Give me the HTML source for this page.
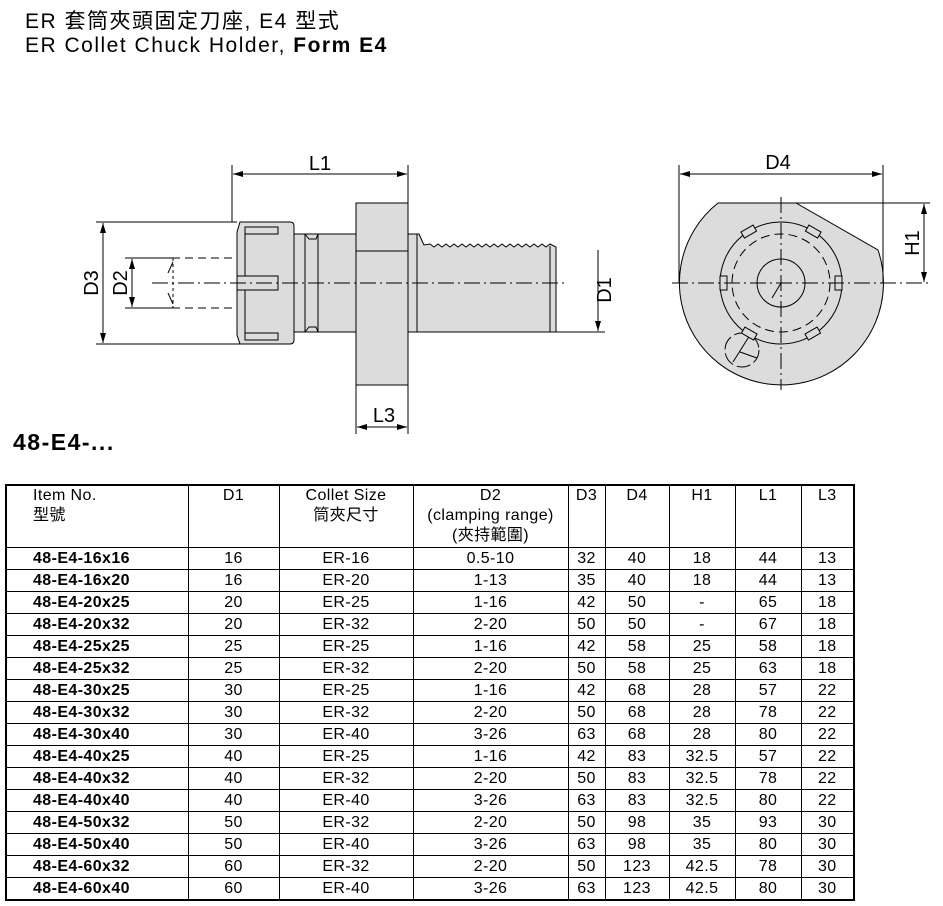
<!DOCTYPE html>
<html><head><meta charset="utf-8"><style>
body{margin:0;background:#fff;width:943px;height:906px;overflow:hidden;position:relative;font-family:"Liberation Sans","Noto Sans CJK TC",sans-serif;}
.t{position:absolute;left:25px;font-size:21px;letter-spacing:1.5px;color:#000;white-space:nowrap;}
table{position:absolute;left:5px;top:484px;border-collapse:collapse;font-size:16px;letter-spacing:0.4px;table-layout:fixed;border:2px solid #000;}
td{border:1px solid #000;padding:0;height:21px;line-height:17px;text-align:center;vertical-align:middle;overflow:hidden;white-space:nowrap;}
tr.h td{height:61px;vertical-align:top;padding-top:0px;line-height:20px;}
td.l{text-align:left;padding-left:26px;font-weight:bold;}
tr.h td.l{font-weight:normal;}
</style></head><body>
<div class="t" style="top:5px">ER 套筒夾頭固定刀座, E4 型式</div>
<div class="t" style="top:34px">ER Collet Chuck Holder, <b>Form E4</b></div>
<div style="position:absolute;left:13px;top:429px;font-size:23px;letter-spacing:1.5px;font-weight:bold">48-E4-...</div>
<svg width="943" height="480" style="position:absolute;left:0;top:0" font-family="Liberation Sans, sans-serif">
<defs>
<marker id="a" viewBox="0 0 10 6" refX="10" refY="3" markerWidth="12" markerHeight="6" orient="auto-start-reverse" markerUnits="userSpaceOnUse"><path d="M0,0L10,3L0,6z" fill="#000"/></marker>
</defs>
<g stroke="#000" stroke-width="1" fill="#dcdcdc">
<rect x="356" y="203" width="52" height="182"/>
<line x1="356" y1="251" x2="408" y2="251"/>
<path d="M294,234H356V332H294z"/>
<path d="M305,234L309,239H316L318,234M305,332L309,327H316L318,332" fill="none"/>
<line x1="305" y1="234" x2="305" y2="332"/><line x1="318" y1="234" x2="318" y2="332"/>
<path d="M408,234H419L424,245L430,244 L434,247 L438,244 L442,247 L446,244 L450,247 L454,244 L458,247 L462,244 L466,247 L470,244 L474,247 L478,244 L482,247 L486,244 L490,247 L494,244 L498,247 L502,244 L506,247 L510,244 L514,247 L518,244 L522,247 L526,244 L530,247 L534,244 L538,247 L542,244 L546,247 L550,244 L556,247 V332 H408z"/>
<line x1="417" y1="234" x2="417" y2="332"/>
<line x1="550" y1="246" x2="550" y2="332"/>
<path d="M240,222H290Q294,222 294,226V340Q294,344 290,344H240L237,335V232z"/>
<line x1="245" y1="234" x2="245" y2="333"/>
<rect x="245" y="227" width="33" height="7"/>
<rect x="245" y="333" width="33" height="7"/>
<rect x="237" y="276" width="41" height="14"/>
</g>
<g stroke="#000" stroke-width="1" fill="none">
<line x1="152" y1="283" x2="565" y2="283" stroke-dasharray="16,4,2,4"/>
<line x1="172" y1="258" x2="232" y2="258" stroke-dasharray="8,5"/>
<line x1="172" y1="308" x2="232" y2="308" stroke-dasharray="8,5"/>
<path d="M173,262L168,273M173,304L168,293" />
<line x1="173" y1="258" x2="173" y2="308" stroke-dasharray="3,3"/>
<line x1="232" y1="165" x2="232" y2="222"/><line x1="408" y1="165" x2="408" y2="203"/>
<line x1="233" y1="174" x2="407" y2="174" marker-start="url(#a)" marker-end="url(#a)"/>
<line x1="96" y1="222" x2="237" y2="222"/><line x1="96" y1="344" x2="240" y2="344"/>
<line x1="103" y1="223" x2="103" y2="343" marker-start="url(#a)" marker-end="url(#a)"/>
<line x1="125" y1="258" x2="172" y2="258"/><line x1="125" y1="308" x2="172" y2="308"/>
<line x1="132" y1="259" x2="132" y2="307" marker-start="url(#a)" marker-end="url(#a)"/>
<line x1="556" y1="332" x2="605" y2="332"/>
<line x1="598" y1="250" x2="598" y2="331" marker-end="url(#a)"/>
<line x1="356" y1="385" x2="356" y2="434"/><line x1="408" y1="385" x2="408" y2="434"/>
<line x1="357" y1="427" x2="407" y2="427" marker-start="url(#a)" marker-end="url(#a)"/>
</g>
<g font-size="20" fill="#000">
<text x="320" y="170" text-anchor="middle">L1</text>
<text x="384" y="422" text-anchor="middle">L3</text>
<text transform="translate(98,283) rotate(-90)" text-anchor="middle">D3</text>
<text transform="translate(127,283) rotate(-90)" text-anchor="middle">D2</text>
<text transform="translate(611,290) rotate(-90)" text-anchor="middle">D1</text>
<text x="778" y="169" text-anchor="middle">D4</text>
<text transform="translate(919,243) rotate(-90)" text-anchor="middle">H1</text>
</g>
<g stroke="#000" stroke-width="1">
<path d="M718,203H796L878,250A102,102 0 1 1 718,203z" fill="#dcdcdc"/>
<circle cx="781" cy="283" r="61" fill="#dcdcdc"/>
<circle cx="781" cy="283" r="49" fill="none" stroke-dasharray="9,5"/>
<circle cx="781" cy="283" r="24" fill="none"/>
<circle cx="742" cy="350" r="17" fill="none" stroke-dasharray="14,4"/>
<path d="M733,362L750,335M740,352L757,358" fill="none"/>
<line x1="781" y1="283" x2="772" y2="298"/>
<g fill="#dcdcdc">
<rect x="720" y="276" width="7" height="14"/><rect x="835" y="276" width="7" height="14"/>
<rect x="-7" y="-4" width="14" height="7" transform="translate(749,232) rotate(-30)"/>
<rect x="-7" y="-4" width="14" height="7" transform="translate(813,232) rotate(30)"/>
<rect x="-7" y="-4" width="14" height="7" transform="translate(749,334) rotate(30)"/>
<rect x="-7" y="-4" width="14" height="7" transform="translate(813,334) rotate(-30)"/>
</g>
<g fill="none">
<line x1="672" y1="283" x2="930" y2="283" stroke-dasharray="16,4,2,4"/>
<line x1="781" y1="197" x2="781" y2="390" stroke-dasharray="16,4,2,4"/>
<line x1="679" y1="165" x2="679" y2="283"/><line x1="883" y1="165" x2="883" y2="283"/>
<line x1="680" y1="174" x2="882" y2="174" marker-start="url(#a)" marker-end="url(#a)"/>
<line x1="796" y1="203" x2="930" y2="203"/>
<line x1="924" y1="204" x2="924" y2="282" marker-start="url(#a)" marker-end="url(#a)"/>
</g>
</g>
</svg>
<table>
<colgroup><col style="width:182px"><col style="width:91px"><col style="width:134px"><col style="width:155px"><col style="width:37px"><col style="width:64px"><col style="width:66px"><col style="width:66px"><col style="width:53px"></colgroup>
<tr class="h"><td class="l">Item No.<br>型號</td><td>D1</td><td>Collet Size<br>筒夾尺寸</td><td>D2<br>(clamping range)<br>(夾持範圍)</td><td>D3</td><td>D4</td><td>H1</td><td>L1</td><td>L3</td></tr>
<tr><td class="l">48-E4-16x16</td><td>16</td><td>ER-16</td><td>0.5-10</td><td>32</td><td>40</td><td>18</td><td>44</td><td>13</td></tr>
<tr><td class="l">48-E4-16x20</td><td>16</td><td>ER-20</td><td>1-13</td><td>35</td><td>40</td><td>18</td><td>44</td><td>13</td></tr>
<tr><td class="l">48-E4-20x25</td><td>20</td><td>ER-25</td><td>1-16</td><td>42</td><td>50</td><td>-</td><td>65</td><td>18</td></tr>
<tr><td class="l">48-E4-20x32</td><td>20</td><td>ER-32</td><td>2-20</td><td>50</td><td>50</td><td>-</td><td>67</td><td>18</td></tr>
<tr><td class="l">48-E4-25x25</td><td>25</td><td>ER-25</td><td>1-16</td><td>42</td><td>58</td><td>25</td><td>58</td><td>18</td></tr>
<tr><td class="l">48-E4-25x32</td><td>25</td><td>ER-32</td><td>2-20</td><td>50</td><td>58</td><td>25</td><td>63</td><td>18</td></tr>
<tr><td class="l">48-E4-30x25</td><td>30</td><td>ER-25</td><td>1-16</td><td>42</td><td>68</td><td>28</td><td>57</td><td>22</td></tr>
<tr><td class="l">48-E4-30x32</td><td>30</td><td>ER-32</td><td>2-20</td><td>50</td><td>68</td><td>28</td><td>78</td><td>22</td></tr>
<tr><td class="l">48-E4-30x40</td><td>30</td><td>ER-40</td><td>3-26</td><td>63</td><td>68</td><td>28</td><td>80</td><td>22</td></tr>
<tr><td class="l">48-E4-40x25</td><td>40</td><td>ER-25</td><td>1-16</td><td>42</td><td>83</td><td>32.5</td><td>57</td><td>22</td></tr>
<tr><td class="l">48-E4-40x32</td><td>40</td><td>ER-32</td><td>2-20</td><td>50</td><td>83</td><td>32.5</td><td>78</td><td>22</td></tr>
<tr><td class="l">48-E4-40x40</td><td>40</td><td>ER-40</td><td>3-26</td><td>63</td><td>83</td><td>32.5</td><td>80</td><td>22</td></tr>
<tr><td class="l">48-E4-50x32</td><td>50</td><td>ER-32</td><td>2-20</td><td>50</td><td>98</td><td>35</td><td>93</td><td>30</td></tr>
<tr><td class="l">48-E4-50x40</td><td>50</td><td>ER-40</td><td>3-26</td><td>63</td><td>98</td><td>35</td><td>80</td><td>30</td></tr>
<tr><td class="l">48-E4-60x32</td><td>60</td><td>ER-32</td><td>2-20</td><td>50</td><td>123</td><td>42.5</td><td>78</td><td>30</td></tr>
<tr><td class="l">48-E4-60x40</td><td>60</td><td>ER-40</td><td>3-26</td><td>63</td><td>123</td><td>42.5</td><td>80</td><td>30</td></tr>
</table>
</body></html>
